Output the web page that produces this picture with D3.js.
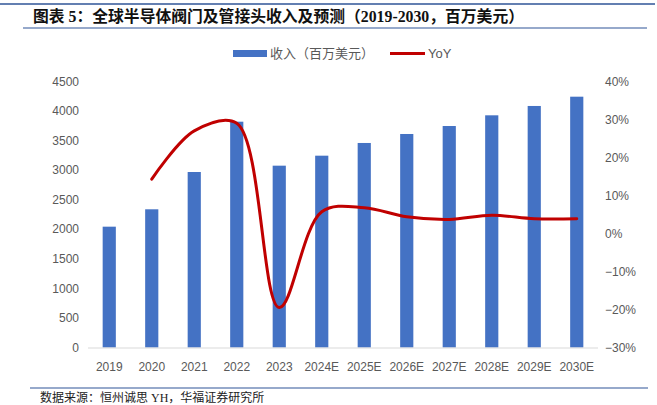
<!DOCTYPE html>
<html>
<head>
<meta charset="utf-8">
<script src="https://cdn.jsdelivr.net/npm/d3@7"></script>
<style>
  body { margin: 0; background: #fff; }
  svg { display: block; }
</style>
</head>
<body>
<svg width="657" height="405"></svg>
<script>
var years = ["2019", "2020", "2021", "2022", "2023", "2024E", "2025E", "2026E", "2027E", "2028E", "2029E", "2030E"];
var revenue = [2044, 2338, 2969, 3820, 3076, 3245, 3460, 3612, 3747, 3928, 4086, 4243];
var yoy = [null, 14.3, 27.0, 29.0, -19.5, 5.7, 6.8, 4.4, 3.7, 4.8, 3.9, 3.9];
var leftTicks = [0, 500, 1000, 1500, 2000, 2500, 3000, 3500, 4000, 4500];
var rightTicks = [-30, -20, -10, 0, 10, 20, 30, 40];

var svg = d3.select("svg"),
    width = +svg.attr("width"),
    height = +svg.attr("height");

var blue = "#4472C4", red = "#C00000", grey = "#595959",
    cjk = "'Noto Sans CJK SC', sans-serif",
    num = "'Liberation Sans', Arial, sans-serif";

// frame lines and title
svg.append("line").attr("x1", 0).attr("x2", 655).attr("y1", 4).attr("y2", 4)
    .attr("stroke", "#2F5597").attr("stroke-width", 1.5);
svg.append("line").attr("x1", 23).attr("x2", 647).attr("y1", 28).attr("y2", 28)
    .attr("stroke", "#2F5597").attr("stroke-width", 1.2);
svg.append("text")
    .attr("x", 33).attr("y", 22)
    .attr("font-family", "'Liberation Serif', 'Noto Sans CJK SC', serif")
    .attr("font-weight", "bold")
    .attr("font-size", 15.8)
    .attr("fill", "#111")
    .text("图表 5：全球半导体阀门及管接头收入及预测（2019-2030，百万美元）");

var x = d3.scaleBand()
    .domain(years)
    .range([88, 598])
    .paddingInner(0.69)
    .paddingOuter(0.345);

var y = d3.scaleLinear().domain([0, 4500]).range([347.5, 81.5]);
var y2 = d3.scaleLinear().domain([-30, 40]).range([347.5, 81.5]);

// left axis labels
svg.append("g").selectAll("text")
    .data(leftTicks).enter().append("text")
    .attr("x", 79).attr("y", function(d) { return y(d); })
    .attr("dy", "0.35em")
    .attr("text-anchor", "end")
    .attr("font-family", num).attr("font-size", 12).attr("fill", grey)
    .text(function(d) { return d; });

// right axis labels
svg.append("g").selectAll("text")
    .data(rightTicks).enter().append("text")
    .attr("x", 605).attr("y", function(d) { return y2(d); })
    .attr("dy", "0.35em")
    .attr("text-anchor", "start")
    .attr("font-family", num).attr("font-size", 12).attr("fill", grey)
    .text(function(d) { return (d < 0 ? "\u2212" + (-d) : d) + "%"; });

// bars
svg.append("g").selectAll("rect")
    .data(revenue).enter().append("rect")
    .attr("x", function(d, i) { return x(years[i]); })
    .attr("width", x.bandwidth())
    .attr("y", function(d) { return y(d); })
    .attr("height", function(d) { return y(0) - y(d); })
    .attr("fill", blue);

// baseline
svg.append("line").attr("x1", 88).attr("x2", 598).attr("y1", 348).attr("y2", 348)
    .attr("stroke", "#D9D9D9").attr("stroke-width", 1);

// x labels
svg.append("g").selectAll("text")
    .data(years).enter().append("text")
    .attr("x", function(d) { return x(d) + x.bandwidth() / 2; })
    .attr("y", 367).attr("dy", "0.35em")
    .attr("text-anchor", "middle")
    .attr("font-family", num).attr("font-size", 12).attr("fill", grey)
    .text(function(d) { return d; });

// YoY smooth line
var yoyPts = yoy.map(function(v, i) { return [years[i], v]; })
    .filter(function(p) { return p[1] !== null; });
var line = d3.line()
    .x(function(p) { return x(p[0]) + x.bandwidth() / 2; })
    .y(function(p) { return y2(p[1]); })
    .curve(d3.curveCatmullRom.alpha(0.5));
svg.append("path")
    .datum(yoyPts)
    .attr("d", line)
    .attr("fill", "none")
    .attr("stroke", red)
    .attr("stroke-width", 3)
    .attr("stroke-linecap", "round");

// legend
var lg = svg.append("g").attr("font-family", cjk).attr("font-size", 13).attr("fill", grey);
lg.append("rect").attr("x", 233).attr("y", 50).attr("width", 34).attr("height", 7).attr("fill", blue);
lg.append("text").attr("x", 270).attr("y", 53.5).attr("dy", "0.35em").text("收入（百万美元）");
lg.append("line").attr("x1", 390).attr("x2", 425).attr("y1", 53.5).attr("y2", 53.5)
    .attr("stroke", red).attr("stroke-width", 3);
lg.append("text").attr("x", 428).attr("y", 53.5).attr("dy", "0.35em")
    .attr("font-family", num).text("YoY");

// footer
svg.append("line").attr("x1", 30).attr("x2", 648).attr("y1", 388).attr("y2", 388)
    .attr("stroke", "#2F5597").attr("stroke-width", 1.2);
svg.append("text")
    .attr("x", 40).attr("y", 398).attr("dy", "0.35em")
    .attr("font-family", "'Liberation Serif', 'Noto Sans CJK SC', serif")
    .attr("font-size", 12).attr("fill", "#222")
    .text("数据来源：恒州诚思 YH，华福证券研究所");
</script>
</body>
</html>
